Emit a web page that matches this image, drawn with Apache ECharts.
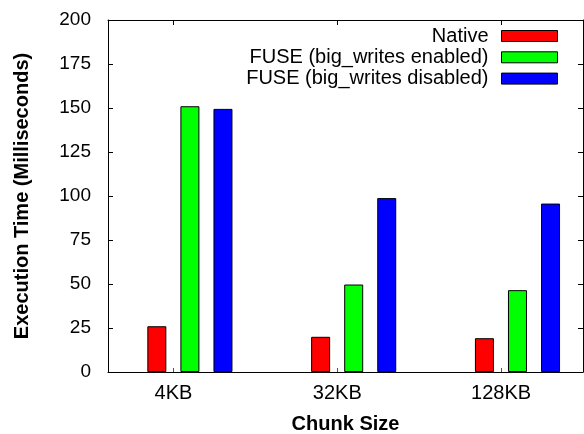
<!DOCTYPE html>
<html>
<head>
<meta charset="utf-8">
<script src="https://cdn.jsdelivr.net/npm/echarts@6/dist/echarts.min.js"></script>
<style>
  html, body { margin: 0; padding: 0; background: #fff; }
  #chart { width: 584px; height: 434px; }
</style>
</head>
<body>
<div id="chart"></div>
<script>
// Chunk sizes on the x axis
const categories = ['4KB', '32KB', '128KB'];

// Execution time in milliseconds per chunk size
const nativeTimes = [26, 20, 19.2];
const fuseBigWritesOn = [151, 49.7, 46.5];
const fuseBigWritesOff = [149.5, 98.8, 95.7];

const seriesNames = ['Native', 'FUSE (big_writes enabled)', 'FUSE (big_writes disabled)'];
const seriesColors = ['#ff0000', '#00ff00', '#0000ff'];

// Y tick values
const yTicks = [0, 25, 50, 75, 100, 125, 150, 175, 200];

const FONT = 'Liberation Sans';
const catIdx = categories.map((_, i) => i);
// each cluster sits slightly right of its tick, as in gnuplot histograms
const CLUSTER_SHIFT = 0.1;

function toPoints(values) {
  return values.map((v, i) => [i + CLUSTER_SHIFT, v]);
}

const allValues = [nativeTimes, fuseBigWritesOn, fuseBigWritesOff];

const chart = echarts.init(document.getElementById('chart'), null, { renderer: 'canvas' });

const axisLine = { show: true, onZero: false, lineStyle: { color: '#000', width: 1 } };

chart.setOption({
  animation: false,
  backgroundColor: '#fff',
  textStyle: { fontFamily: FONT },
  grid: { left: 108, right: 1, top: 20, bottom: 62, containLabel: false, outerBoundsMode: 'none' },
  legend: {
    orient: 'vertical',
    align: 'right',
    right: 26,
    top: 26,
    padding: 0,
    itemWidth: 56,
    itemHeight: 11,
    itemGap: 1.3,
    icon: 'rect',
    selectedMode: false,
    data: seriesNames,
    textStyle: { fontFamily: FONT, fontSize: 20, color: '#000', lineHeight: 20, padding: [0, 8, 0, 0] },
    itemStyle: { borderColor: '#000', borderWidth: 1 }
  },
  xAxis: [
    {
      type: 'value',
      position: 'bottom',
      min: -0.4,
      max: 2.5,
      splitLine: { show: false },
      axisLine: axisLine,
      axisTick: { show: true, inside: true, length: 4, customValues: catIdx, lineStyle: { color: '#555' } },
      axisLabel: {
        customValues: catIdx,
        formatter: v => categories[Math.round(v)],
        fontFamily: FONT, fontSize: 20, color: '#000', margin: 11
      },
      name: 'Chunk Size',
      nameLocation: 'middle',
      nameGap: 42,
      nameTextStyle: { fontFamily: FONT, fontSize: 20, fontWeight: 'bold', color: '#000' }
    },
    {
      type: 'value',
      position: 'top',
      min: -0.4,
      max: 2.5,
      splitLine: { show: false },
      axisLine: axisLine,
      axisTick: { show: true, inside: true, length: 5, customValues: catIdx, lineStyle: { color: '#000' } },
      axisLabel: { show: false }
    }
  ],
  yAxis: [
    {
      type: 'value',
      position: 'left',
      min: yTicks[0],
      max: yTicks[yTicks.length - 1],
      interval: 25,
      splitLine: { show: false },
      axisLine: axisLine,
      axisTick: { show: true, inside: true, length: 5, lineStyle: { color: '#000' } },
      axisLabel: { fontFamily: FONT, fontSize: 19, color: '#000', margin: 17 },
      name: 'Execution Time (Milliseconds)',
      nameLocation: 'middle',
      nameRotate: 90,
      nameGap: 76,
      nameTextStyle: { fontFamily: FONT, fontSize: 20, fontWeight: 'bold', color: '#000' }
    },
    {
      type: 'value',
      position: 'right',
      min: yTicks[0],
      max: yTicks[yTicks.length - 1],
      interval: 25,
      splitLine: { show: false },
      axisLine: axisLine,
      axisTick: { show: true, inside: true, length: 5, lineStyle: { color: '#000' } },
      axisLabel: { show: false }
    }
  ],
  series: seriesNames.map((name, k) => ({
    name: name,
    type: 'bar',
    xAxisIndex: 0,
    yAxisIndex: 0,
    barWidth: 19,
    barGap: '74%',
    data: toPoints(allValues[k]),
    itemStyle: { color: seriesColors[k], borderColor: '#000', borderWidth: 1 }
  }))
});
</script>
</body>
</html>
